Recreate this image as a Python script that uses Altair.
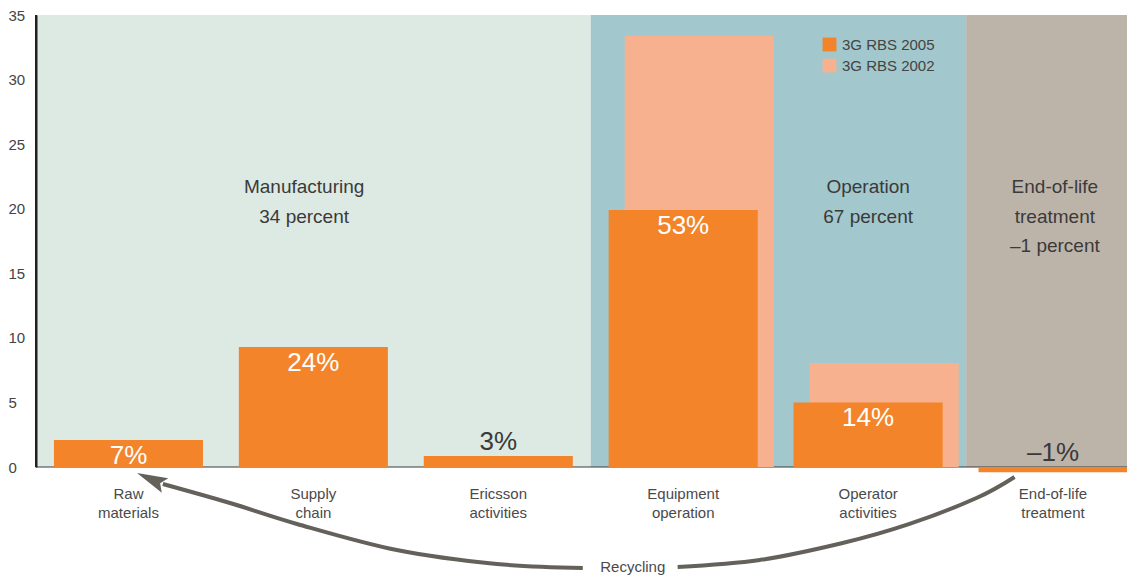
import altair as alt
import pandas as pd

# ---------------- data ----------------
categories = ["Raw\nmaterials", "Supply\nchain", "Ericsson\nactivities",
              "Equipment\noperation", "Operator\nactivities", "End-of-life\ntreatment"]
rbs_2005 = [2.1, 9.3, 0.85, 19.9, 5.0, -0.4]
rbs_2002 = [None, None, None, 33.4, 8.05, None]
share_2005 = ["7%", "24%", "3%", "53%", "14%", "\u20131%"]
series_names = ["3G RBS 2005", "3G RBS 2002"]
series_colors = ["#f3842a", "#f8b18e"]

phase_text = ["Manufacturing\n34 percent", "Operation\n67 percent",
              "End-of-life\ntreatment\n\u20131 percent"]
phase_start = [0, 3, 5.03]
phase_end = [3, 5.03, 5.9]
phase_label_x = [1.45, 4.5, 5.51]
phase_colors = ["#dde9e3", "#a2c7cc", "#bdb4a9"]

y_ticks = [0, 5, 10, 15, 20, 25, 30, 35]

recycle_left_x = [2.957, 2.492, 1.951, 1.411, 1.049, 0.686]
recycle_left_y = [-7.82, -7.51, -6.43, -4.41, -2.79, -1.32]
recycle_right_x = [3.470, 3.914, 4.362, 4.724, 5.086, 5.292]
recycle_right_y = [-7.74, -7.20, -5.89, -4.41, -2.40, -0.77]
recycle_label = "Recycling"

# ---------------- tables ----------------
FONT = "Liberation Sans"
X_MAX = 5.9
xs = alt.Scale(domain=[0, X_MAX], nice=False, zero=False)
ys = alt.Scale(domain=[0, 35], nice=False, zero=False)

phases = pd.DataFrame({"text": phase_text, "x0": phase_start, "x1": phase_end,
                       "lx": phase_label_x, "color": phase_colors,
                       "ylo": [0] * 3, "yhi": [35] * 3, "ly": [21.2] * 3})

bar_rows = []
for i, v in enumerate(rbs_2002):
    if v is not None:
        bar_rows.append({"series": series_names[1], "x0": i + 0.184, "x1": i + 0.99, "v": v, "zero": 0})
for i, v in enumerate(rbs_2005):
    bar_rows.append({"series": series_names[0], "x0": i + 0.097, "x1": i + 0.903, "v": v, "zero": 0})
bars = pd.DataFrame(bar_rows)

labels = pd.DataFrame({
    "x": [i + 0.5 for i in range(len(categories))],
    "anchor": [max(v, 0) for v in rbs_2005],
    "text": share_2005,
    "inside": [v > 1.5 for v in rbs_2005],
    "cat": categories,
    "zero": [0] * len(categories),
})

arrows = pd.DataFrame(
    [{"side": "left", "o": k, "x": x, "y": y} for k, (x, y) in enumerate(zip(recycle_left_x, recycle_left_y))]
    + [{"side": "right", "o": k, "x": x, "y": y} for k, (x, y) in enumerate(zip(recycle_right_x, recycle_right_y))]
)
head = pd.DataFrame({"x": [0.622], "y": [-0.945]})
rec = pd.DataFrame({"x": [3.227], "y": [-7.74], "text": [recycle_label]})
base_df = pd.DataFrame({"x0": [0], "x1": [X_MAX], "y": [0]})
yline_df = pd.DataFrame({"x": [0], "y0": [0], "y1": [35]})

yaxis = alt.Axis(values=y_ticks, labelAlign="left", labelPadding=28, ticks=False, tickSize=0,
                 grid=False, domainColor="#231f20", domainWidth=2, labelFontSize=15,
                 labelFont=FONT, labelColor="#444444", labelBaseline="middle", title=None,
                 zindex=1)

# ---------------- layers ----------------
bg = alt.Chart(phases).mark_rect().encode(
    x=alt.X("x0:Q", scale=xs, axis=None),
    x2="x1:Q",
    y=alt.Y("ylo:Q", scale=ys, axis=yaxis),
    y2="yhi:Q",
    color=alt.Color("color:N", scale=None),
)

baseline = alt.Chart(base_df).mark_rule(color="#3a3a3a", strokeWidth=1).encode(
    x=alt.X("x0:Q", scale=xs, axis=None),
    x2="x1:Q",
    y=alt.Y("y:Q", scale=ys, axis=yaxis),
)

yline = alt.Chart(yline_df).mark_rule(color="#231f20", strokeWidth=2).encode(
    x=alt.X("x:Q", scale=xs, axis=None),
    y=alt.Y("y0:Q", scale=ys, axis=yaxis),
    y2="y1:Q",
)

bar_layer = alt.Chart(bars).mark_rect().encode(
    x=alt.X("x0:Q", scale=xs, axis=None),
    x2="x1:Q",
    y=alt.Y("v:Q", scale=ys, axis=yaxis),
    y2="zero:Q",
    color=alt.Color("series:N",
                    scale=alt.Scale(domain=series_names, range=series_colors),
                    legend=alt.Legend(orient="none", legendX=786, legendY=22, title=None,
                                      symbolType="square", symbolSize=190,
                                      symbolStrokeWidth=0, labelFontSize=15,
                                      labelFont=FONT, labelColor="#444444",
                                      rowPadding=5, padding=0, labelOffset=5)),
)

pct_in = alt.Chart(labels).transform_filter("datum.inside").mark_text(
    font=FONT, fontSize=26, color="white", baseline="alphabetic", dy=24
).encode(
    x=alt.X("x:Q", scale=xs, axis=None),
    y=alt.Y("anchor:Q", scale=ys, axis=yaxis),
    text="text:N",
)

pct_out = alt.Chart(labels).transform_filter("!datum.inside").mark_text(
    font=FONT, fontSize=26, color="#3a3a3a", baseline="alphabetic", dy=-6
).encode(
    x=alt.X("x:Q", scale=xs, axis=None),
    y=alt.Y("anchor:Q", scale=ys, axis=yaxis),
    text="text:N",
)

cat_text = alt.Chart(labels).mark_text(
    font=FONT, fontSize=15, color="#4a4a4a", baseline="alphabetic", dy=32,
    lineBreak="\n", lineHeight=19,
).encode(
    x=alt.X("x:Q", scale=xs, axis=None),
    y=alt.Y("zero:Q", scale=ys, axis=yaxis),
    text="cat:N",
)

phase_label = alt.Chart(phases).mark_text(
    font=FONT, fontSize=19, color="#3a3a3a", baseline="alphabetic",
    lineBreak="\n", lineHeight=29.5,
).encode(
    x=alt.X("lx:Q", scale=xs, axis=None),
    y=alt.Y("ly:Q", scale=ys, axis=yaxis),
    text="text:N",
)

arrow_lines = alt.Chart(arrows).mark_line(
    color="#64615a", strokeWidth=4, interpolate="cardinal", clip=False
).encode(
    x=alt.X("x:Q", scale=xs, axis=None),
    y=alt.Y("y:Q", scale=ys, axis=yaxis),
    detail="side:N",
    order="o:Q",
)

arrow_head = alt.Chart(head).mark_point(
    shape="M0,-1L0.52,1L0,0.65L-0.52,1Z", size=940, angle=294, filled=True,
    color="#64615a", opacity=1, strokeWidth=0,
).encode(
    x=alt.X("x:Q", scale=xs, axis=None),
    y=alt.Y("y:Q", scale=ys, axis=yaxis),
)

rec_text = alt.Chart(rec).mark_text(
    font=FONT, fontSize=15, color="#4a4a4a", baseline="middle"
).encode(
    x=alt.X("x:Q", scale=xs, axis=None),
    y=alt.Y("y:Q", scale=ys, axis=yaxis),
    text="text:N",
)

chart = alt.layer(
    bg, baseline, bar_layer, yline, pct_in, pct_out, cat_text, phase_label,
    arrow_lines, arrow_head, rec_text,
).properties(
    width=1091, height=452,
    padding={"left": 28, "top": 7, "right": 0, "bottom": 108},
    autosize=alt.AutoSizeParams(type="none"),
).configure_view(
    stroke=None
)

chart.save("out.html", embed_options={"renderer": "svg", "actions": False})
